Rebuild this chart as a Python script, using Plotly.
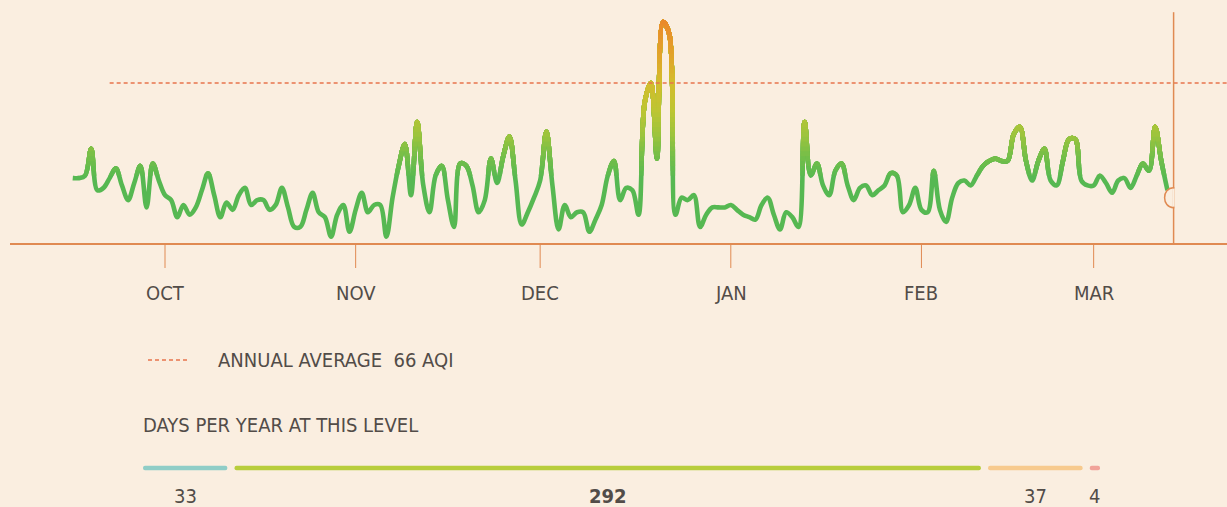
import pandas as pd
import plotly.graph_objects as go

# ---------------- data ----------------
START_DATE = "2018-09-16"
SEP_AQI = [27, 27, 28, 39, 22, 23, 27, 31, 24, 18, 25, 32, 15, 33, 26]
OCT_AQI = [20, 18, 11, 16, 12, 15, 22, 29, 20, 11, 17, 14, 20, 23, 16, 18, 18, 14, 16, 23,
           15, 7, 7, 14, 21, 13, 11, 3, 12, 16, 5]
NOV_AQI = [14, 21, 13, 16, 16, 3, 19, 32, 41, 20, 50, 24, 13, 28, 32, 18, 7, 33, 32, 24,
           13, 18, 35, 25, 36, 44, 26, 8, 13, 19]
DEC_AQI = [26, 46, 24, 6, 16, 11, 13, 13, 5, 10, 16, 28, 34, 18, 23, 22, 12, 58, 66, 35,
           91, 86, 12, 19, 18, 20, 7, 12, 15, 15, 15]
JAN_AQI = [16, 14, 12, 11, 10, 16, 19, 12, 6, 13, 11, 7, 50, 28, 33, 24, 20, 30, 33, 24,
           18, 23, 24, 20, 22, 24, 29, 28, 13, 16, 23]
FEB_AQI = [14, 13, 30, 14, 9, 19, 25, 26, 24, 28, 32, 34, 35, 34, 34, 45, 48, 34, 26, 34,
           39, 26, 24, 34, 43, 43, 26, 24]
MAR_AQI = [24, 28, 25, 21, 26, 27, 23, 28, 33, 30, 48, 34, 22]

ANNUAL_AVG = 66
AVG_LINE_START = "2018-09-22"
TODAY = "2019-03-14"

MONTH_STARTS = ["2018-10-01", "2018-11-01", "2018-12-01", "2019-01-01", "2019-02-01", "2019-03-01"]
MONTH_LABELS = ["OCT", "NOV", "DEC", "JAN", "FEB", "MAR"]

LEVEL_DAYS = [33, 292, 37, 4]
LEVEL_COLORS = ["#8fcdc7", "#b8cd3c", "#f7ca8e", "#f1a39a"]

# ---------------- style ----------------
W, H = 1227, 507
BG = "#faeee0"
AXIS_COL = "#e08a52"
AVG_COL = "#e8744c"
TXT = "#524c48"
FONT = "Liberation Sans Narrow, DejaVu Sans Condensed, Roboto Condensed, sans-serif"
FS = 20
AXIS_PX = 244          # pixel row of the baseline
YMAX = 100
PX_PER_DAY = 6.15
ORIGIN = pd.Timestamp("2018-10-01")
ORIGIN_PX = 165

aqi = SEP_AQI + OCT_AQI + NOV_AQI + DEC_AQI + JAN_AQI + FEB_AQI + MAR_AQI
dates = pd.date_range(START_DATE, periods=len(aqi), freq="D")

x_lo = ORIGIN - pd.Timedelta(days=ORIGIN_PX / PX_PER_DAY)
x_hi = x_lo + pd.Timedelta(days=W / PX_PER_DAY)

def py(px):
    return 1 - px / H

ydom = [py(AXIS_PX), 1.0]

# colour gradient by value
STOPS = [(0, (86, 184, 82)), (28, (90, 186, 80)), (36, (118, 190, 72)), (45, (158, 196, 60)),
         (55, (190, 197, 50)), (66, (212, 188, 44)), (78, (226, 162, 42)), (92, (235, 136, 42)),
         (100, (236, 128, 42))]

def col(v):
    for (a, ca), (b, cb) in zip(STOPS[:-1], STOPS[1:]):
        if a <= v <= b:
            t = (v - a) / (b - a)
            c = [round(ca[i] + t * (cb[i] - ca[i])) for i in range(3)]
            return f"rgb({c[0]},{c[1]},{c[2]})"
    return "rgb(236,128,42)"

# each band subplot spans from its lower edge to the top; later bands paint over earlier ones
lows = [0, 28] + list(range(30, 95, 2))
fig = go.Figure()
layout_axes = {}
unit = (ydom[1] - ydom[0]) / YMAX
for i, lo in enumerate(lows):
    n = i + 2
    d0 = ydom[0] + lo * unit
    fig.add_trace(go.Scatter(
        x=dates, y=aqi, mode="lines", xaxis="x", yaxis=f"y{n}",
        line=dict(color=col(lo + 1), width=4.6, shape="spline", smoothing=1),
        hoverinfo="skip", showlegend=False))
    layout_axes[f"yaxis{n}"] = dict(domain=[d0, 1.0], range=[lo, YMAX], anchor="x",
                                    visible=False, fixedrange=True)

nb = len(lows) + 2
# --- bars: days per year at each level ---
GAP = 2.8
bases = []
acc = 0
for k, d in enumerate(LEVEL_DAYS):
    bases.append(acc)
    acc += d + GAP
total = acc - GAP
for k, d in enumerate(LEVEL_DAYS):
    fig.add_trace(go.Bar(
        x=[d], base=[bases[k]], y=[0], orientation="h", width=0.22,
        marker=dict(color=LEVEL_COLORS[k], line=dict(width=0), cornerradius=2),
        xaxis="x2", yaxis=f"y{nb}", hoverinfo="skip", showlegend=False))

bar_center = py(468)
layout_axes[f"yaxis{nb}"] = dict(domain=[bar_center - 10 / H, bar_center + 10 / H],
                                 range=[-0.5, 0.5], anchor="x2", visible=False, fixedrange=True)

annotations = []
for k, d in enumerate(LEVEL_DAYS):
    txt = f"<b>{d}</b>" if d == max(LEVEL_DAYS) else str(d)
    annotations.append(dict(x=bases[k] + d / 2, y=py(496), xref="x2", yref="paper",
                            text=txt, showarrow=False, yanchor="middle",
                            font=dict(family=FONT, size=FS, color=TXT)))

for m, lab in zip(MONTH_STARTS, MONTH_LABELS):
    annotations.append(dict(x=m, y=py(293), xref="x", yref="paper", text=lab,
                            showarrow=False, yanchor="middle",
                            font=dict(family=FONT, size=FS, color=TXT)))

annotations.append(dict(x=216 / W, y=py(360), xref="paper", yref="paper",
                        text=f"ANNUAL AVERAGE&nbsp;&nbsp;{ANNUAL_AVG} AQI", showarrow=False,
                        xanchor="left", yanchor="middle",
                        font=dict(family=FONT, size=FS, color=TXT)))
annotations.append(dict(x=141 / W, y=py(425), xref="paper", yref="paper",
                        text="DAYS PER YEAR AT THIS LEVEL", showarrow=False,
                        xanchor="left", yanchor="middle",
                        font=dict(family=FONT, size=FS, color=TXT)))

shapes = []
# baseline axis
shapes.append(dict(type="line", xref="paper", yref="paper", x0=10 / W, x1=1,
                   y0=py(AXIS_PX), y1=py(AXIS_PX), line=dict(color=AXIS_COL, width=2)))
# month ticks
for m in MONTH_STARTS:
    shapes.append(dict(type="line", xref="x", yref="paper", x0=m, x1=m,
                       y0=py(AXIS_PX), y1=py(268), line=dict(color=AXIS_COL, width=1)))
# annual average dashed line
shapes.append(dict(type="line", xref="x", yref="y", x0=AVG_LINE_START, x1=x_hi,
                   y0=ANNUAL_AVG, y1=ANNUAL_AVG, line=dict(color=AVG_COL, width=1.4, dash="4px,3px")))
# today marker
shapes.append(dict(type="line", xref="x", yref="y", x0=TODAY, x1=TODAY,
                   y0=0, y1=95, line=dict(color=AXIS_COL, width=1.5)))
shapes.append(dict(type="path", xref="x", yref="y", xsizemode="pixel", ysizemode="pixel",
                   xanchor=TODAY, yanchor=aqi[-1] - 3,
                   path="M 0 10 C -12 10 -12 -10 0 -10 Z", fillcolor=BG,
                   line=dict(color=AXIS_COL, width=1.5)))
shapes.append(dict(type="line", xref="x", yref="y", xsizemode="pixel", ysizemode="pixel",
                   xanchor=TODAY, yanchor=aqi[-1] - 3, x0=0, x1=0, y0=-9, y1=9,
                   line=dict(color=BG, width=2)))
# legend sample dash
shapes.append(dict(type="line", xref="paper", yref="paper", x0=148 / W, x1=190 / W,
                   y0=py(360), y1=py(360), line=dict(color=AVG_COL, width=1.3, dash="4px,3px")))

fig.update_layout(
    width=W, height=H, margin=dict(l=0, r=0, t=0, b=0),
    paper_bgcolor=BG, plot_bgcolor="rgba(0,0,0,0)",
    xaxis=dict(range=[x_lo, x_hi], type="date", visible=False, fixedrange=True, anchor="y"),
    yaxis=dict(domain=ydom, range=[0, YMAX], visible=False, fixedrange=True, anchor="x"),
    xaxis2=dict(domain=[143 / W, 1100 / W], range=[0, total], visible=False,
                fixedrange=True, anchor=f"y{nb}"),
    annotations=annotations, shapes=shapes, barmode="overlay",
    showlegend=False, hovermode=False,
    **layout_axes,
)

fig.write_html("out.html",
               config={"displayModeBar": False, "staticPlot": True},
               post_script="document.body.style.margin='0px';document.body.style.padding='0px';"
                           "document.body.style.background='" + BG + "';")
